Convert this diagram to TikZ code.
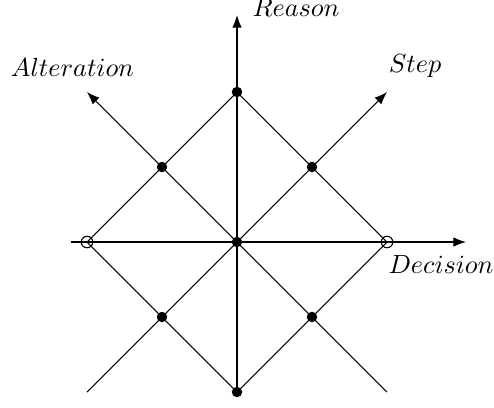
\documentclass[tikz,border=0pt]{standalone}
\usepackage{amsmath,amssymb}
\usetikzlibrary{arrows.meta}

\begin{document}
\begin{tikzpicture}[>=Latex, x=0.67cm, y=0.67cm]
    \useasboundingbox (-4.74,-3.3) rectangle (5.14,4.84);
    % 定义坐标
    \coordinate (O) at (0, 0);
    \coordinate (T) at (0, 3);
    \coordinate (R) at (3, 0);
    \coordinate (B) at (0, -3);
    \coordinate (L) at (-3, 0);
    \coordinate (TL) at (-1.5, 1.5);
    \coordinate (TR) at (1.5, 1.5);
    \coordinate (BL) at (-1.5, -1.5);
    \coordinate (BR) at (1.5, -1.5);
    \coordinate (xs) at (-3.32, 0);
    \coordinate (xe) at (4.58, 0);
    \coordinate (ye) at (0, 4.54);
    \coordinate (ss) at (-3, -3);
    \coordinate (se) at (3, 3);
    \coordinate (as) at (3, -3);
    \coordinate (ae) at (-3, 3);

    % 绘制坐标轴
    \draw[->] (xs) -- (xe);
    \draw[->] (B) -- (ye);
    \draw[->] (ss) -- (se);
    \draw[->] (as) -- (ae);

    % 坐标轴标签
    \node[anchor=base] (dec) at (4.08, -0.62) {$Decision$};
    \node[anchor=base] (rea) at (1.18, 4.52) {$Reason$};
    \node[anchor=base] (ste) at (3.56, 3.4) {$Step$};
    \node[anchor=base] (alt) at (-3.29, 3.32) {$Alteration$};

    % 绘制菱形
    \draw (T) -- (R) -- (B) -- (L) -- cycle;

    % 绘制节点
    \foreach \p in {O, T, B, TL, TR, BL, BR}
        \fill (\p) circle (2pt);
    \draw (L) circle (2.2pt);
    \draw (R) circle (2.2pt);
\end{tikzpicture}
\end{document}
